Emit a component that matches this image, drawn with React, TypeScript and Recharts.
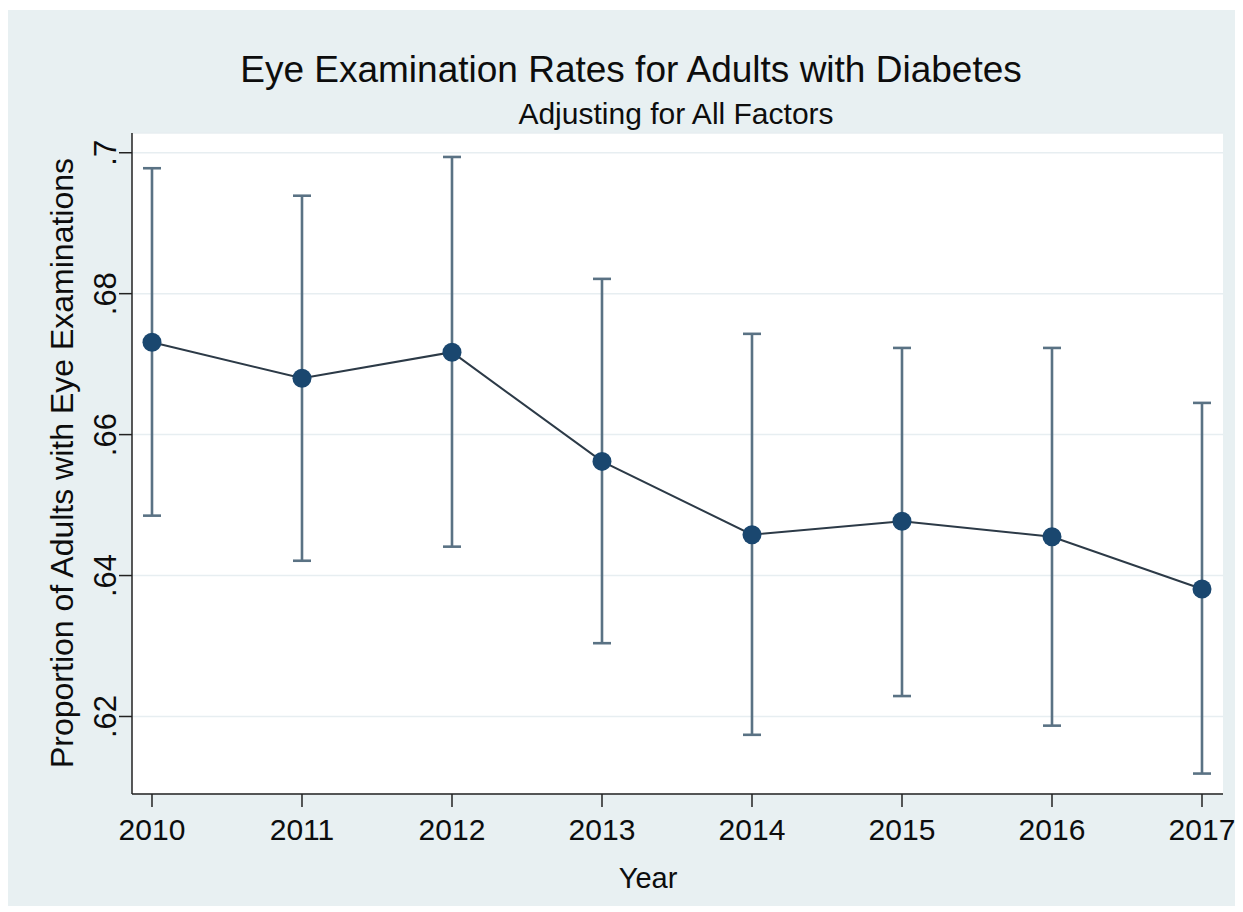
import { CartesianGrid, ComposedChart, ErrorBar, Line, XAxis, YAxis } from "recharts";

const years = [2010, 2011, 2012, 2013, 2014, 2015, 2016, 2017];
const meanRate = [0.6731, 0.668, 0.6717, 0.6562, 0.6458, 0.6477, 0.6455, 0.6381];
const upperCI = [0.6978, 0.6939, 0.6994, 0.6821, 0.6743, 0.6723, 0.6723, 0.6645];
const lowerCI = [0.6485, 0.6421, 0.6441, 0.6304, 0.6174, 0.6229, 0.6187, 0.6119];
const yTicks = [0.62, 0.64, 0.66, 0.68, 0.7];
const yTickLabels = [".62", ".64", ".66", ".68", ".7"];

const data = years.map((year, i) => ({
  year,
  mean: meanRate[i],
  err: [meanRate[i] - lowerCI[i], upperCI[i] - meanRate[i]],
}));

const FONT = '"Liberation Sans", Arial, Helvetica, sans-serif';
const INK = "#0d0d0d";

function YTick({ x, y, payload }: { x: number; y: number; payload: { value: number; index: number } }) {
  const i = yTicks.indexOf(payload.value);
  const tx = x - 3;
  return (
    <text
      x={tx}
      y={y}
      transform={`rotate(-90, ${tx}, ${y})`}
      textAnchor="middle"
      fontSize={31}
      fill={INK}
      fontFamily={FONT}
    >
      {i >= 0 ? yTickLabels[i] : payload.value}
    </text>
  );
}

function XTick({ x, y, payload }: { x: number; y: number; payload: { value: number } }) {
  return (
    <text x={x} y={y} dy={33} textAnchor="middle" fontSize={30} fill={INK} fontFamily={FONT}>
      {payload.value}
    </text>
  );
}

export default function App() {
  return (
    <div style={{ paddingTop: 2 }}>
      <div
        style={{
          position: "relative",
          width: 1232,
          height: 896,
          background: "#e8f0f2",
          fontFamily: FONT,
          color: INK,
        }}
      >
        <div
          style={{
            position: "absolute",
            left: 623,
            top: 40,
            transform: "translateX(-50%)",
            whiteSpace: "nowrap",
            fontSize: 37,
            lineHeight: "40px",
          }}
        >
          Eye Examination Rates for Adults with Diabetes
        </div>
        <div
          style={{
            position: "absolute",
            left: 668,
            top: 87,
            transform: "translateX(-50%)",
            whiteSpace: "nowrap",
            fontSize: 30,
            lineHeight: "34px",
          }}
        >
          Adjusting for All Factors
        </div>
        <div
          style={{
            position: "absolute",
            left: 54,
            top: 453,
            transform: "translate(-50%, -50%) rotate(-90deg)",
            whiteSpace: "nowrap",
            fontSize: 32,
            lineHeight: "34px",
          }}
        >
          Proportion of Adults with Eye Examinations
        </div>
        <div
          style={{
            position: "absolute",
            left: 640,
            top: 852,
            transform: "translateX(-50%)",
            whiteSpace: "nowrap",
            fontSize: 29,
            lineHeight: "32px",
          }}
        >
          Year
        </div>
        <div style={{ position: "absolute", left: 0, top: 0 }}>
          <ComposedChart
            width={1232}
            height={896}
            data={data}
            margin={{ top: 123, right: 17, bottom: 0, left: 0 }}
          >
            <CartesianGrid
              horizontal
              vertical={false}
              fill="#ffffff"
              stroke="#e7eef1"
              strokeWidth={1.5}
            />
            <XAxis
              dataKey="year"
              type="number"
              domain={[2009.8667, 2017.14]}
              ticks={years}
              allowDataOverflow
              height={112}
              tickSize={13}
              tickMargin={0}
              tick={XTick}
              axisLine={{ stroke: "#222222", strokeWidth: 1.5 }}
              tickLine={{ stroke: "#222222", strokeWidth: 1.5 }}
            />
            <YAxis
              type="number"
              domain={[0.609, 0.7028]}
              ticks={yTicks}
              allowDataOverflow
              width={124}
              tickSize={13}
              tickMargin={0}
              tick={YTick}
              axisLine={{ stroke: "#222222", strokeWidth: 1.5 }}
              tickLine={{ stroke: "#222222", strokeWidth: 1.5 }}
            />
            <Line
              type="linear"
              dataKey="mean"
              stroke="#2c3a47"
              strokeWidth={2}
              dot={{ r: 9.5, fill: "#1a476f", stroke: "#1a476f", strokeWidth: 0 }}
              activeDot={false}
              isAnimationActive={false}
            >
              <ErrorBar
                dataKey="err"
                direction="y"
                width={9}
                stroke="#5a7284"
                strokeWidth={2.6}
                isAnimationActive={false}
              />
            </Line>
          </ComposedChart>
        </div>
      </div>
    </div>
  );
}
